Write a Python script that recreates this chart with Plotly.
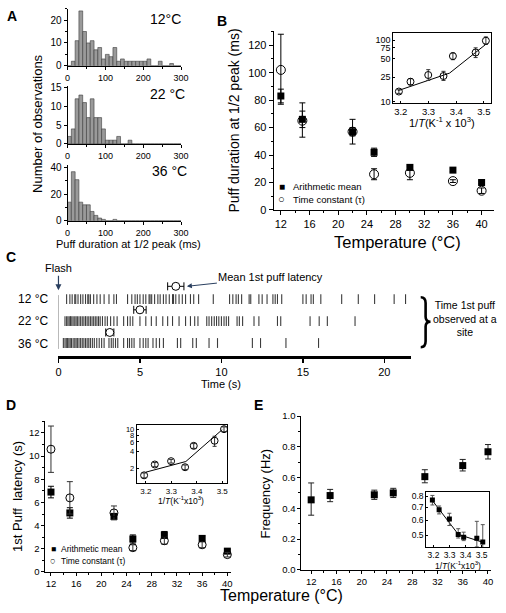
import plotly.graph_objects as go

W, H = 506, 613
FONT = "Liberation Sans, Arial, sans-serif"

# ---------------- data ----------------
hist_bin_left_ms = list(range(0, 300, 10))
hist_counts_12C = [0, 2, 11, 24, 15, 10, 11, 7, 8, 3, 5, 4, 8, 2, 3, 2, 2, 2, 2, 2,
                   2, 3, 0, 0, 2, 0, 0, 1, 0, 0]
hist_counts_22C = [2, 4, 12, 13, 11, 7, 12, 7, 7, 4, 1, 1, 1, 2, 0, 0, 1, 0, 0, 0,
                   0, 0, 0, 0, 0, 0, 0, 0, 0, 0]
hist_counts_36C = [14, 37, 31, 14, 12, 12, 7, 4, 2, 1, 0, 0, 1, 0, 0, 0, 0, 0, 0, 0,
                   0, 0, 0, 0, 0, 0, 0, 0, 0, 0]

temperatures_C = [12, 15, 22, 25, 30, 36, 40]
inv_T = [3.507, 3.470, 3.388, 3.354, 3.299, 3.235, 3.193]

# B: puff duration (ms)
dur_mean = [83, 66, 57, 42, 31, 29, 20]
dur_mean_err = [5, 6, 3, 3, 2, 1, 1]
dur_tau = [102, 65, 57, 26, 27, 21, 14]
dur_tau_err_up = [26, 13, 9, 4, 5, 1, 2]
dur_tau_err_dn = [25, 12, 9, 4, 5, 1, 2]
dur_inset_tau = [98, 63, 55, 26, 27, 21, 14.5]
dur_inset_err_up = [15, 12, 7, 5, 6, 2.5, 1]
dur_inset_err_dn = [13, 11, 7, 4, 5, 2.5, 1]
dur_fit_x = [3.19, 3.376, 3.506]
dur_fit_y = [15, 29, 85]

# C: first puff times (s) per site
raster_12C = [0.5, 0.7, 0.84, 1.0, 1.06, 1.2, 1.36, 1.5, 1.66, 1.8, 1.86, 1.96, 2.16, 2.36,
              2.56, 2.8, 3.1, 3.4, 3.56, 4.24, 4.5, 4.7, 4.84, 5.0, 5.2, 5.36, 5.56, 5.62,
              5.72, 5.9, 6.1, 6.24, 6.44, 6.6, 6.8, 7.0, 7.06, 7.2, 7.4, 7.6, 7.8, 8.1,
              8.3, 8.6, 9.5, 10.5, 10.7, 10.9, 11.04, 11.24, 11.7, 11.8, 12.3, 12.5,
              12.8, 13.16, 13.3, 13.44, 13.7, 15.0, 15.2, 15.5, 15.64, 16.1, 17.38,
              18.4, 19.4, 20.6, 21.3]
raster_22C = [0.4, 0.5, 0.58, 0.66, 0.74, 0.82, 0.9, 1.0, 1.08, 1.16, 1.26, 1.36, 1.46,
              1.56, 1.66, 1.76, 1.86, 1.96, 2.06, 2.16, 2.26, 2.36, 2.46, 2.56, 2.7,
              2.86, 3.0, 3.2, 3.4, 3.6, 4.0, 4.24, 4.4, 4.56, 5.0, 5.36, 5.7, 6.0, 6.4,
              6.7, 7.0, 7.4, 7.8, 8.1, 8.36, 8.56, 9.1, 9.24, 9.4, 9.56, 9.7, 9.84,
              10.0, 10.16, 10.3, 10.44, 10.96, 11.1, 11.3, 12.0, 12.3, 13.44, 13.64,
              15.44, 16.0, 16.5, 18.2]
raster_36C = [0.3, 0.4, 0.48, 0.56, 0.64, 0.72, 0.8, 0.9, 1.0, 1.08, 1.16, 1.26, 1.36,
              1.46, 1.56, 1.66, 1.76, 1.86, 1.96, 2.08, 2.2, 2.35, 2.5, 2.65, 2.8, 3.1,
              3.24, 3.36, 3.5, 3.64, 4.0, 4.24, 4.36, 4.5, 4.64, 5.0, 5.2, 5.36, 5.5,
              5.8, 6.0, 6.2, 6.44, 7.3, 7.5, 8.24, 8.46, 9.24, 9.76, 11.9, 12.4, 13.96,
              15.96]
raster_rows = [0, 1, 2]
raster_labels = ["12 °C", "22 °C", "36 °C"]
latency_mean_s = [7.2, 5.0, 3.15]
latency_err_s = [0.5, 0.38, 0.25]
latency_marker_row = [-0.58, 0.49, 1.52]

# D: first puff latency (s)
lat_mean = [6.9, 5.1, 4.8, 2.85, 3.2, 2.9, 1.8]
lat_mean_err = [0.5, 0.45, 0.25, 0.35, 0.3, 0.2, 0.12]
lat_tau = [10.6, 6.4, 5.1, 2.1, 2.7, 2.35, 1.5]
lat_tau_err = [2.0, 1.4, 0.6, 0.25, 0.3, 0.25, 0.2]
lat_inset_tau = [10.2, 6.3, 5.1, 2.1, 2.7, 2.35, 1.5]
lat_inset_err = [1.0, 1.3, 0.5, 0.2, 0.2, 0.2, 0.15]
lat_fit_x = [3.2, 3.357, 3.5]
lat_fit_y = [1.71, 2.66, 10.0]

# E: frequency (Hz)
freq = [0.455, 0.483, 0.488, 0.50, 0.606, 0.678, 0.768]
freq_err_up = [0.11, 0.04, 0.03, 0.03, 0.045, 0.04, 0.047]
freq_err_dn = [0.10, 0.04, 0.03, 0.03, 0.04, 0.035, 0.047]
freq_inset = [0.462, 0.484, 0.49, 0.506, 0.608, 0.679, 0.763]
freq_inset_err_up = [0.107, 0.108, 0.03, 0.036, 0.044, 0.032, 0.044]
freq_inset_err_dn = [0.1, 0.048, 0.02, 0.021, 0.045, 0.032, 0.043]
freq_fit_x = [3.19, 3.355, 3.51]
freq_fit_y = [0.765, 0.506, 0.46]


# ---------------- helpers ----------------
def dom_x(a, b):
    return [a / W, b / W]


def dom_y(top, bot):
    return [1 - bot / H, 1 - top / H]


def axis(domain, rng, anchor, tickvals=None, ticktext=None, size=10, minor=None,
         **kw):
    d = dict(domain=domain, range=rng, anchor=anchor, showline=True,
             linecolor="black", linewidth=1, ticks="outside", ticklen=3,
             tickwidth=1, tickcolor="black", showgrid=False, zeroline=False,
             tickfont=dict(size=size, color="black", family=FONT),
             fixedrange=True)
    if tickvals is not None:
        d["tickmode"] = "array"
        d["tickvals"] = tickvals
        if ticktext is not None:
            d["ticktext"] = ticktext
    if minor is not None:
        d["minor"] = dict(ticks="outside", ticklen=2, dtick=minor,
                          tickcolor="black", showgrid=False)
    d.update(kw)
    return d


def inset_axis(domain, rng, anchor, tickvals, size, **kw):
    return axis(domain, rng, anchor, tickvals, size=size, mirror=True,
                ticks="inside", ticklen=2, **kw)


annotations = []


def ann(text, px, py, size, xanchor="center", yanchor="middle", angle=0,
        bold=False, **kw):
    if bold:
        text = "<b>" + text + "</b>"
    a = dict(text=text, x=px / W, y=1 - py / H, xref="paper", yref="paper",
             showarrow=False, xanchor=xanchor, yanchor=yanchor, textangle=angle,
             font=dict(size=size, color="black", family=FONT))
    a.update(kw)
    annotations.append(a)


fig = go.Figure()

# ---------------- A: histograms ----------------
bin_centers = [b + 5 for b in hist_bin_left_ms]
for counts, ax_id in [(hist_counts_12C, ""), (hist_counts_22C, "2"),
                      (hist_counts_36C, "3")]:
    fig.add_trace(go.Bar(x=bin_centers, y=counts, width=10,
                         xaxis="x" + ax_id, yaxis="y" + ax_id,
                         marker=dict(color="#9a9a9a",
                                     line=dict(color="#3a3a3a", width=0.6)),
                         showlegend=False))

# ---------------- B ----------------
fig.add_trace(go.Scatter(
    x=temperatures_C, y=dur_mean, mode="markers", xaxis="x4", yaxis="y4",
    marker=dict(symbol="square", size=7, color="black"),
    error_y=dict(type="data", array=dur_mean_err, thickness=1, width=3,
                 color="black"), showlegend=False, cliponaxis=False))
fig.add_trace(go.Scatter(
    x=temperatures_C, y=dur_tau, mode="markers", xaxis="x4", yaxis="y4",
    marker=dict(symbol="circle-open", size=9, color="black",
                line=dict(width=1)),
    error_y=dict(type="data", symmetric=False, array=dur_tau_err_up,
                 arrayminus=dur_tau_err_dn, thickness=1, width=3, color="black"),
    showlegend=False, cliponaxis=False))
fig.add_trace(go.Scatter(
    x=dur_fit_x, y=dur_fit_y, mode="lines", xaxis="x5", yaxis="y5",
    line=dict(color="black", width=1), showlegend=False))
fig.add_trace(go.Scatter(
    x=inv_T, y=dur_inset_tau, mode="markers", xaxis="x5", yaxis="y5",
    marker=dict(symbol="circle-open", size=7, color="black", line=dict(width=1)),
    error_y=dict(type="data", symmetric=False, array=dur_inset_err_up,
                 arrayminus=dur_inset_err_dn, thickness=1, width=2,
                 color="#333"),
    showlegend=False))

# ---------------- C: raster ----------------
for row, times in zip(raster_rows, [raster_12C, raster_22C, raster_36C]):
    fig.add_trace(go.Scatter(
        x=times, y=[row] * len(times), mode="markers", xaxis="x6", yaxis="y6",
        marker=dict(symbol="line-ns", size=7,
                    line=dict(width=1.1, color="#3c3c3c")),
        showlegend=False, cliponaxis=False))
fig.add_trace(go.Scatter(
    x=latency_mean_s, y=latency_marker_row, mode="markers", xaxis="x6",
    yaxis="y6",
    marker=dict(symbol="circle", size=8, color="white",
                line=dict(width=1, color="black")),
    error_x=dict(type="data", array=latency_err_s, thickness=1, width=4,
                 color="black"),
    showlegend=False, cliponaxis=False))

# ---------------- D ----------------
fig.add_trace(go.Scatter(
    x=temperatures_C, y=lat_mean, mode="markers", xaxis="x7", yaxis="y7",
    marker=dict(symbol="square", size=7, color="black"),
    error_y=dict(type="data", array=lat_mean_err, thickness=1, width=3,
                 color="black"), showlegend=False, cliponaxis=False))
fig.add_trace(go.Scatter(
    x=temperatures_C, y=lat_tau, mode="markers", xaxis="x7", yaxis="y7",
    marker=dict(symbol="circle-open", size=8, color="black", line=dict(width=1)),
    error_y=dict(type="data", array=lat_tau_err, thickness=1, width=3,
                 color="#333"), showlegend=False, cliponaxis=False))
fig.add_trace(go.Scatter(
    x=lat_fit_x, y=lat_fit_y, mode="lines", xaxis="x8", yaxis="y8",
    line=dict(color="black", width=1), showlegend=False))
fig.add_trace(go.Scatter(
    x=inv_T, y=lat_inset_tau, mode="markers", xaxis="x8", yaxis="y8",
    marker=dict(symbol="circle-open", size=7, color="black", line=dict(width=1)),
    error_y=dict(type="data", array=lat_inset_err, thickness=1, width=2,
                 color="#333"), showlegend=False))

# ---------------- E ----------------
fig.add_trace(go.Scatter(
    x=temperatures_C, y=freq, mode="markers", xaxis="x9", yaxis="y9",
    marker=dict(symbol="square", size=7, color="black"),
    error_y=dict(type="data", symmetric=False, array=freq_err_up,
                 arrayminus=freq_err_dn, thickness=1, width=3, color="#222"),
    showlegend=False, cliponaxis=False))
fig.add_trace(go.Scatter(
    x=freq_fit_x, y=freq_fit_y, mode="lines", xaxis="x10", yaxis="y10",
    line=dict(color="black", width=1), showlegend=False))
fig.add_trace(go.Scatter(
    x=inv_T, y=freq_inset, mode="markers", xaxis="x10", yaxis="y10",
    marker=dict(symbol="square", size=5, color="black"),
    error_y=dict(type="data", symmetric=False, array=freq_inset_err_up,
                 arrayminus=freq_inset_err_dn, thickness=1, width=2,
                 color="#555"), showlegend=False))

# ---------------- axes ----------------
inset_x_ticks = [3.2, 3.3, 3.4, 3.5]
lay = dict(
    xaxis=axis(dom_x(66, 182), [0, 300], "y", [0, 100, 200, 300], size=9,
               minor=50),
    yaxis=axis(dom_y(2.7, 61), [0, 25], "x", [0, 10, 20], size=10, minor=5),
    xaxis2=axis(dom_x(66, 182), [0, 300], "y2", [0, 100, 200, 300], size=9,
                minor=50),
    yaxis2=axis(dom_y(82, 140.7), [0, 15.3], "x2", [0, 5, 10, 15], size=10),
    xaxis3=axis(dom_x(66, 182), [0, 300], "y3", [0, 100, 200, 300], size=9,
                minor=50),
    yaxis3=axis(dom_y(162, 219), [0, 42.2], "x3", [0, 20, 40], size=10,
                minor=10),
    xaxis4=axis(dom_x(276.7, 501.7), [11, 41.7], "y4",
                [12, 16, 20, 24, 28, 32, 36, 40], size=11, minor=2, ticklen=4),
    yaxis4=axis(dom_y(26, 208), [0, 130], "x4", [0, 20, 40, 60, 80, 100, 120],
                size=11, minor=10, ticklen=4),
    xaxis5=inset_axis(dom_x(399, 499), [3.173, 3.526], "y5", inset_x_ticks, 9.5,
                      tickformat=".1f"),
    yaxis5=inset_axis(dom_y(28, 99), [0.973, 2.11], "x5", [10, 25, 50, 75, 100],
                      9, type="log"),
    xaxis6=axis(dom_x(56.7, 417), [0, 21.63], "y6", [0, 5, 10, 15, 20],
                size=11, linewidth=3, ticklen=4, tickwidth=1.5),
    yaxis6=dict(domain=dom_y(278, 356.7), range=[2.578, -0.933], anchor="x6",
                visible=False, fixedrange=True),
    xaxis7=axis(dom_x(43.3, 233), [11.11, 40.57], "y7",
                [12, 16, 20, 24, 28, 32, 36, 40], size=9.5, minor=2),
    yaxis7=axis(dom_y(423.7, 577.3), [0, 13], "x7", [0, 2, 4, 6, 8, 10, 12],
                size=9.5, minor=1),
    xaxis8=inset_axis(dom_x(136.7, 229.3), [3.164, 3.52], "y8", inset_x_ticks,
                      8, tickformat=".1f"),
    yaxis8=inset_axis(dom_y(427.3, 487), [0.029, 1.085], "x8", [2, 4, 6, 8, 10],
                      7.5, type="log"),
    xaxis9=axis(dom_x(305, 499), [10.45, 40.5], "y9",
                [12, 16, 20, 24, 28, 32, 36, 40], size=9.5, minor=2),
    yaxis9=axis(dom_y(418.3, 575), [0, 1.0], "x9", [0, 0.2, 0.4, 0.6, 0.8, 1.0],
                size=9.5, minor=0.1, tickformat=".1f"),
    xaxis10=inset_axis(dom_x(432.7, 497.3), [3.155, 3.549], "y10",
                       inset_x_ticks, 8.5, tickformat=".1f"),
    yaxis10=inset_axis(dom_y(496, 551.7), [-0.3605, -0.0768], "x10",
                       [0.5, 0.6, 0.7, 0.8], 8.5, type="log", tickformat=".1f"),
)

# ---------------- text ----------------
ann("A", 9, 10, 14, bold=True)
ann("B", 224, 15, 14, bold=True)
ann("C", 8, 256, 14, bold=True)
ann("D", 8, 407, 14, bold=True)
ann("E", 261, 407, 14, bold=True)

ann("12°C", 166, 13, 14)
ann("22 °C", 168, 90, 14)
ann("36 °C", 170, 168, 14)
ann("Number of observations", 35, 120, 13, angle=-90)
ann("Puff duration at 1/2 peak (ms)", 128, 243, 11)

ann("Puff duration at 1/2 peak (ms)", 236, 117, 14, angle=-90)
ann("Temperature (°C)", 403, 241, 16.5)
ann("1/<i>T</i>(K<sup>-1</sup> x 10<sup>3</sup>)", 449, 118, 11)
ann("■", 285, 184, 10)
ann("Arithmetic mean", 294, 184, 9.5, xanchor="left")
ann("○", 285, 197, 11)
ann("Time constant (τ)", 294, 197, 9.5, xanchor="left")

for lab, py in zip(raster_labels, [299, 321, 345]):
    ann(lab, 48, py, 12, xanchor="right")
ann("Time (s)", 223, 386, 11)
ann("Time 1st puff<br>observed at a<br>site", 472, 319, 10.5)

ann("1st Puff  latency (s)", 15, 500, 13, angle=-90)
ann("1/<i>T</i>(K<sup>-1</sup>x10<sup>3</sup>)", 182, 504.5, 8.5)
ann("■", 51.5, 554, 8.5)
ann("Arithmetic mean", 57.5, 554, 8.5, xanchor="left")
ann("○", 51.5, 566, 9.5)
ann("Time constant (τ)", 57.5, 566, 8.5, xanchor="left")

ann("Frequency (Hz)", 268, 497, 13, angle=-90)
ann("1/<i>T</i>(K<sup>-1</sup>x10<sup>3</sup>)", 465, 571, 8.5)
ann("Temperature (°C)", 285, 601, 16)

# arrows in C
annotations.append(dict(text="Flash", x=0, y=-0.4, xref="x6", yref="y6",
                        showarrow=True, arrowhead=2, arrowsize=1,
                        arrowwidth=1.2, ax=0, ay=-22,
                        font=dict(size=11, color="black", family=FONT)))
annotations.append(dict(text="Mean 1st puff latency", x=7.88, y=-0.58,
                        xref="x6", yref="y6", showarrow=True, arrowhead=2,
                        arrowsize=1, arrowwidth=1, ax=84, ay=-9,
                        font=dict(size=11, color="black", family=FONT)))


def path_px(cmds):
    out = []
    for c in cmds:
        if isinstance(c, str):
            out.append(c)
        else:
            out.append(f"{c[0] / W:.5f},{1 - c[1] / H:.5f}")
    return " ".join(out)


brace = path_px(["M", (427, 297), "Q", (432, 297), (432, 303), "L", (432, 317),
                 "Q", (432, 322), (437, 322), "Q", (432, 322), (432, 327),
                 "L", (432, 342), "Q", (432, 348), (427, 348)])

shapes = [
    dict(type="line", xref="x6", yref="y6", x0=0, x1=0, y0=-0.18, y1=2.27,
         line=dict(color="#777", width=1)),
    dict(type="path", xref="paper", yref="paper", path=brace,
         line=dict(color="black", width=2.6)),
]

fig.update_layout(
    width=W, height=H, margin=dict(l=0, r=0, t=0, b=0),
    paper_bgcolor="white", plot_bgcolor="rgba(0,0,0,0)",
    font=dict(family=FONT, color="black"),
    showlegend=False, annotations=annotations, shapes=shapes, bargap=0,
    **lay)

fig.write_html("out.html",
               config={"displayModeBar": False, "staticPlot": True},
               post_script="document.body.style.margin='0';"
                           "document.body.style.overflow='hidden';")
